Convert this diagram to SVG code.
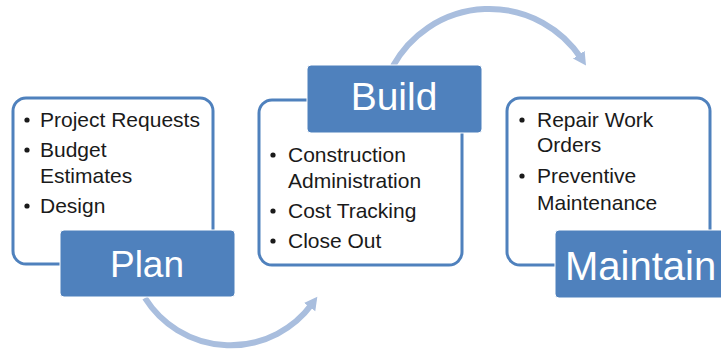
<svg xmlns="http://www.w3.org/2000/svg" width="721" height="354" viewBox="0 0 721 354">
<style>
.box{fill:#ffffff;stroke:#4F81BD;stroke-width:3}
.lab{fill:#4F81BD;stroke:#ffffff;stroke-width:1}
.t{font-family:"Liberation Sans",Arial,sans-serif;font-size:21px;fill:#1a1a1a}
.big{font-family:"Liberation Sans",Arial,sans-serif;fill:#ffffff;text-anchor:middle}
.arc{fill:none;stroke:#A9BEDE;stroke-width:6}
</style>
<defs>
<marker id="ah" markerUnits="userSpaceOnUse" markerWidth="16" markerHeight="16" viewBox="0 0 16 16" refX="4" refY="8" orient="auto">
<path d="M0,1 L13,8 L0,15 Z" fill="#A9BEDE"/>
</marker>
</defs>
<rect width="721" height="354" fill="#ffffff"/>
<g id="connectors">
<path class="arc" d="M145,298 A101,101 0 0 0 312,304" marker-end="url(#ah)"/>
<path class="arc" d="M393,66 A110,110 0 0 1 581,58" marker-end="url(#ah)"/>
</g>
<g id="node-plan">
<rect class="box" x="13" y="98" width="200" height="166" rx="13"/>
<g class="t">
<circle cx="27" cy="120" r="2.6" fill="#1a1a1a"/>
<text x="40" y="127">Project Requests</text>
<circle cx="27" cy="150" r="2.6" fill="#1a1a1a"/>
<text x="40" y="157">Budget</text>
<text x="40" y="183">Estimates</text>
<circle cx="27" cy="206" r="2.6" fill="#1a1a1a"/>
<text x="40" y="213">Design</text>
</g>
<rect class="lab" x="60" y="230" width="175" height="67" rx="4"/>
<text class="big" x="147" y="277" font-size="37">Plan</text>
</g>
<g id="node-build">
<rect class="box" x="259" y="100" width="203" height="165" rx="13"/>
<g class="t">
<circle cx="273" cy="155" r="2.6" fill="#1a1a1a"/>
<text x="288" y="162">Construction</text>
<text x="288" y="188">Administration</text>
<circle cx="273" cy="211" r="2.6" fill="#1a1a1a"/>
<text x="288" y="218">Cost Tracking</text>
<circle cx="273" cy="241" r="2.6" fill="#1a1a1a"/>
<text x="288" y="248">Close Out</text>
</g>
<rect class="lab" x="307" y="65" width="175" height="68" rx="4"/>
<text class="big" x="394" y="110" font-size="39">Build</text>
</g>
<g id="node-maintain">
<rect class="box" x="507" y="98" width="203" height="167" rx="13"/>
<g class="t">
<circle cx="522" cy="120" r="2.6" fill="#1a1a1a"/>
<text x="537" y="127">Repair Work</text>
<text x="537" y="152">Orders</text>
<circle cx="522" cy="176" r="2.6" fill="#1a1a1a"/>
<text x="537" y="183">Preventive</text>
<text x="537" y="210">Maintenance</text>
</g>
<rect class="lab" x="555" y="230" width="180" height="68" rx="4"/>
<text x="565" y="280" font-size="40" font-family="Liberation Sans, Arial, sans-serif" fill="#ffffff">Maintain</text>
</g>
</svg>
